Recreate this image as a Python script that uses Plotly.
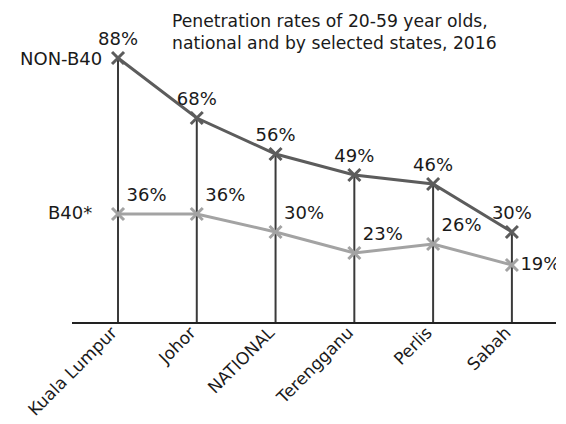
import plotly.graph_objects as go

categories = ["Kuala Lumpur", "Johor", "NATIONAL", "Terengganu", "Perlis", "Sabah"]
non_b40 = [88, 68, 56, 49, 46, 30]
b40 = [36, 36, 30, 23, 26, 19]
b40_pos = ["top right", "top right", "top right", "top right", "top right", "middle right"]

FONT = "DejaVu Sans"
FS = 18
DARK = "#5c5c5c"
LIGHT = "#a3a3a3"
TXT = "#1a1a1a"

# drop lines from non-B40 points to the axis
dx, dy = [], []
for c, v in zip(categories, non_b40):
    dx += [c, c, None]
    dy += [0, v, None]

fig = go.Figure()
fig.add_trace(go.Scatter(x=dx, y=dy, mode="lines", line=dict(color="#3a3a3a", width=2),
                         hoverinfo="skip", showlegend=False))
fig.add_trace(go.Scatter(x=categories, y=b40, mode="lines+markers+text",
                         line=dict(color=LIGHT, width=3),
                         marker=dict(symbol="x-thin", size=12, line=dict(color=LIGHT, width=3)),
                         text=[f"{v}%" for v in b40], textposition=b40_pos,
                         textfont=dict(family=FONT, size=FS, color=TXT),
                         showlegend=False))
fig.add_trace(go.Scatter(x=categories, y=non_b40, mode="lines+markers+text",
                         line=dict(color=DARK, width=3),
                         marker=dict(symbol="x-thin", size=12, line=dict(color=DARK, width=3)),
                         text=[f"{v}%" for v in non_b40], textposition="top center",
                         textfont=dict(family=FONT, size=FS, color=TXT),
                         showlegend=False))

fig.add_annotation(x=categories[0], y=non_b40[0], text="NON-B40", showarrow=False,
                   xanchor="right", yanchor="middle", xshift=-14,
                   font=dict(family=FONT, size=FS, color=TXT))
fig.add_annotation(x=categories[0], y=b40[0], text="B40*", showarrow=False,
                   xanchor="right", yanchor="middle", xshift=-24, yshift=2,
                   font=dict(family=FONT, size=FS, color=TXT))
fig.add_annotation(x=0.2025, y=1.0, xref="paper", yref="paper",
                   text="Penetration rates of 20-59 year olds,<br>national and by selected states, 2016",
                   showarrow=False, xanchor="left", yanchor="top", align="left", yshift=13,
                   font=dict(family=FONT, size=17.2, color=TXT))

fig.update_layout(
    width=558, height=416,
    margin=dict(l=64, r=10, t=14, b=102),
    plot_bgcolor="white", paper_bgcolor="white",
    font=dict(family=FONT, size=FS, color=TXT),
    xaxis=dict(range=[-0.584, 5.56], showgrid=False, zeroline=False, showline=True,
               linecolor="#222", linewidth=2, tickangle=-45, ticks="", automargin=False,
               ticklabelstandoff=-8, ticklabelshift=-6,
               tickfont=dict(family=FONT, size=17, color=TXT)),
    yaxis=dict(range=[0, 100], visible=False, automargin=False),
)

fig.write_html("out.html")
